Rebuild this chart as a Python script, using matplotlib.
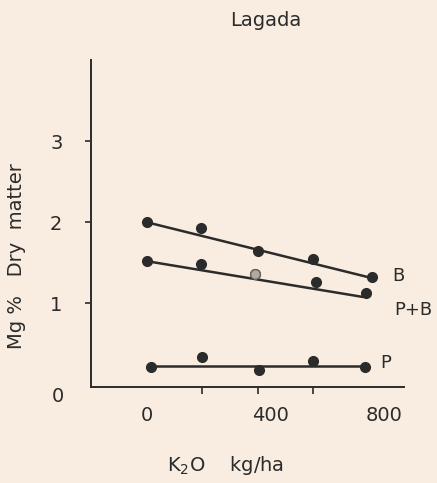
import matplotlib.pyplot as plt

# K2O rate (kg/ha) and Mg % dry matter
k2o_b = [0, 195, 400, 600, 810]
mg_b = [2.00, 1.93, 1.64, 1.55, 1.32]
fit_b_x = [0, 800]
fit_b_y = [2.00, 1.32]

k2o_pb = [0, 195, 390, 610, 790]
mg_pb = [1.52, 1.48, 1.36, 1.26, 1.13]
fit_pb_x = [0, 775]
fit_pb_y = [1.52, 1.08]

k2o_p = [15, 200, 405, 600, 785]
mg_p = [0.21, 0.34, 0.18, 0.29, 0.22]
fit_p_x = [15, 785]
fit_p_y = [0.23, 0.23]

bg = "#f8ede0"
ink = "#2b2b2b"

fig = plt.figure(figsize=(4.37, 4.83), dpi=100, facecolor=bg)
ax = fig.add_axes([0.208, 0.199, 0.716, 0.677], facecolor=bg)

for fx, fy in [(fit_b_x, fit_b_y), (fit_pb_x, fit_pb_y), (fit_p_x, fit_p_y)]:
    ax.plot(fx, fy, color=ink, lw=1.8)
for xs, ys in [(k2o_b, mg_b), (k2o_pb, mg_pb), (k2o_p, mg_p)]:
    ax.plot(xs, ys, "o", color=ink, ms=7, ls="none")
# the faint middle point of P+B
ax.plot(k2o_pb[2], mg_pb[2], "o", ms=7, mfc="#b0aaa2", mec="#6a6660")

ax.text(885, 1.34, "B", fontsize=13, color=ink, va="center")
ax.text(890, 0.92, "P+B", fontsize=13, color=ink, va="center")
ax.text(840, 0.27, "P", fontsize=13, color=ink, va="center")

ax.set_xlim(-200, 925)
ax.set_ylim(-0.03, 4.0)
for s in ["top", "right"]:
    ax.spines[s].set_visible(False)
for s in ["left", "bottom"]:
    ax.spines[s].set_color(ink)
    ax.spines[s].set_linewidth(1.4)

ax.set_yticks([1, 2, 3])
ax.set_yticklabels(["1", "2", "3"])
ax.tick_params(axis="y", length=4.5, width=1.2, color=ink, pad=16,
               labelsize=14, labelcolor=ink)
ax.text(-0.105, 0.0, "0", transform=ax.transAxes, fontsize=14, color=ink,
        ha="center", va="top")

ax.set_xticks([0, 200, 400, 600], minor=True)
ax.tick_params(axis="x", which="minor", length=5, width=1.2, color=ink)
ax.set_xticks([0, 445, 855])
ax.set_xticklabels(["0", "400", "800"])
ax.tick_params(axis="x", which="major", length=0, pad=14, labelsize=14,
               labelcolor=ink)

fig.text(0.607, 0.958, "Lagada", fontsize=14, color=ink, ha="center",
         va="center")
fig.text(0.038, 0.47, "Mg %   Dry  matter", fontsize=14, color=ink,
         rotation=90, ha="center", va="center")
fig.text(0.515, 0.037, "K$_2$O    kg/ha", fontsize=14, color=ink,
         ha="center", va="center")

fig.savefig("out.png", dpi=100, facecolor=bg)
